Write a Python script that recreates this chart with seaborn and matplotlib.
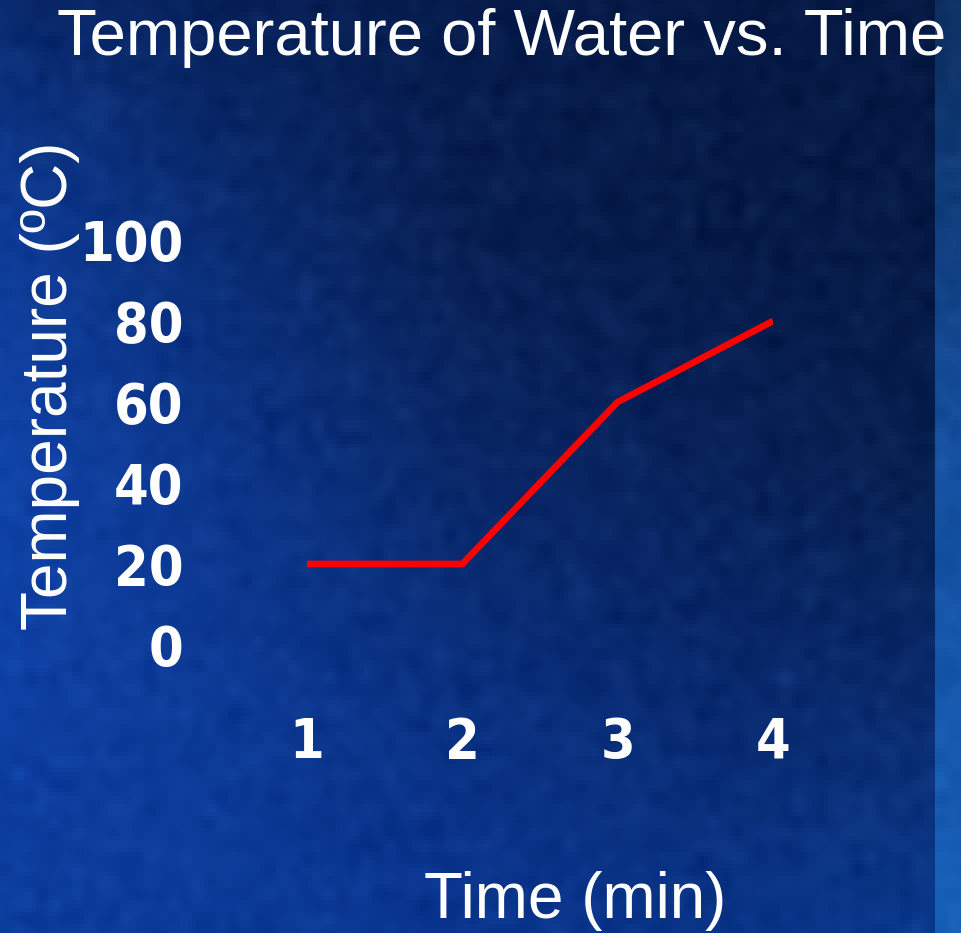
import numpy as np
import matplotlib
matplotlib.use("Agg")
import matplotlib.pyplot as plt
import seaborn as sns

# Data
time_min = [1, 2, 3, 4]
temperature_c = [20, 20, 60, 80]
y_ticks = [0, 20, 40, 60, 80, 100]
x_ticks = [1, 2, 3, 4]

title = "Temperature of Water vs. Time"
x_label = "Time (min)"
y_label = "Temperature (ºC)"

W, H, DPI = 961, 933, 100

sns.set_style("white")
plt.rcParams["font.family"] = ["Liberation Sans", "DejaVu Sans"]

fig = plt.figure(figsize=(W / DPI, H / DPI), dpi=DPI)

# Slide-style blue backdrop: a smooth colour field plus a lighter strip at the right edge
def hex2rgb(h):
    h = h.lstrip("#")
    return [int(h[i:i + 2], 16) / 255 for i in (0, 2, 4)]

grid = [
    ["#0a2a6e", "#08225a", "#071c4c", "#061a46", "#061a44"],
    ["#0e3c98", "#0a2c72", "#081f52", "#061b48", "#061a46"],
    ["#1044a8", "#0c3488", "#0a2868", "#08225a", "#072050"],
    ["#0e40a4", "#0c3a95", "#0a3080", "#092a70", "#0a2a6c"],
    ["#0c3e9e", "#0b3a98", "#0a3690", "#0a3488", "#0a3a8e"],
]
g = np.array([[hex2rgb(c) for c in row] for row in grid])
main_w = 935
gy = np.linspace(0, 1, g.shape[0])
gx = np.linspace(0, 1, g.shape[1])
yy = np.linspace(0, 1, H)
xx = np.linspace(0, 1, main_w)
tmp = np.stack([np.array([np.interp(yy, gy, g[:, j, k]) for j in range(g.shape[1])]).T
                for k in range(3)], axis=-1)
field = np.stack([np.array([np.interp(xx, gx, tmp[i, :, k]) for i in range(H)])
                  for k in range(3)], axis=-1)
strip_cols = np.array([hex2rgb("#0e3062"), hex2rgb("#1550a0"), hex2rgb("#1860b8")])
sy = np.linspace(0, 1, 3)
strip = np.stack([np.interp(yy, sy, strip_cols[:, k]) for k in range(3)], axis=-1)
strip = np.repeat(strip[:, None, :], W - main_w, axis=1)
bg = np.concatenate([field, strip], axis=1)

# faint mottled texture
rng = np.random.default_rng(7)
coarse = rng.normal(0, 1, (H // 12 + 2, W // 12 + 2))
tex = np.kron(coarse, np.ones((12, 12)))[:H, :W]
for _ in range(3):
    tex = (tex + np.roll(tex, 4, 0) + np.roll(tex, -4, 0) + np.roll(tex, 4, 1) + np.roll(tex, -4, 1)) / 5
tex = tex / tex.std()
bg = np.clip(bg + 0.012 * tex[..., None] * np.array([0.6, 0.8, 1.0]), 0, 1)

bg_ax = fig.add_axes([0, 0, 1, 1], zorder=0)
bg_ax.imshow(bg, aspect="auto", extent=[0, W, H, 0], interpolation="bilinear")
bg_ax.set_axis_off()

# Plot area
ax = fig.add_axes([307 / W, 1 - 645 / H, 466 / W, 405 / H], zorder=1)
ax.patch.set_alpha(0)
sns.lineplot(x=time_min, y=temperature_c, ax=ax, color="#ff0000",
             linewidth=4.8, solid_capstyle="butt", solid_joinstyle="miter")
ax.set_xlim(1, 4)
ax.set_ylim(0, 100)
for s in ax.spines.values():
    s.set_visible(False)
ax.grid(False)

tick_font = dict(family="DejaVu Sans", weight="bold", stretch="condensed", size=40)
ax.set_xticks(x_ticks)
ax.set_yticks(y_ticks)
ax.set_xticklabels([str(v) for v in x_ticks], color="white", fontdict=tick_font)
ax.set_yticklabels([str(v) for v in y_ticks], color="white", fontdict=tick_font)
ax.tick_params(axis="y", length=0, pad=89)
ax.tick_params(axis="x", length=0, pad=51)

ax.set_xlabel(x_label, color="white", fontsize=46)
ax.xaxis.set_label_coords(0.575, -0.557)
ax.set_ylabel(y_label, color="white", fontsize=46)
ax.yaxis.set_label_coords(-0.487, 0.64)

fig.text(502 / W, 1 - 55 / H, title, color="white", fontsize=47,
         ha="center", va="baseline")

fig.savefig("out.png", dpi=DPI)
